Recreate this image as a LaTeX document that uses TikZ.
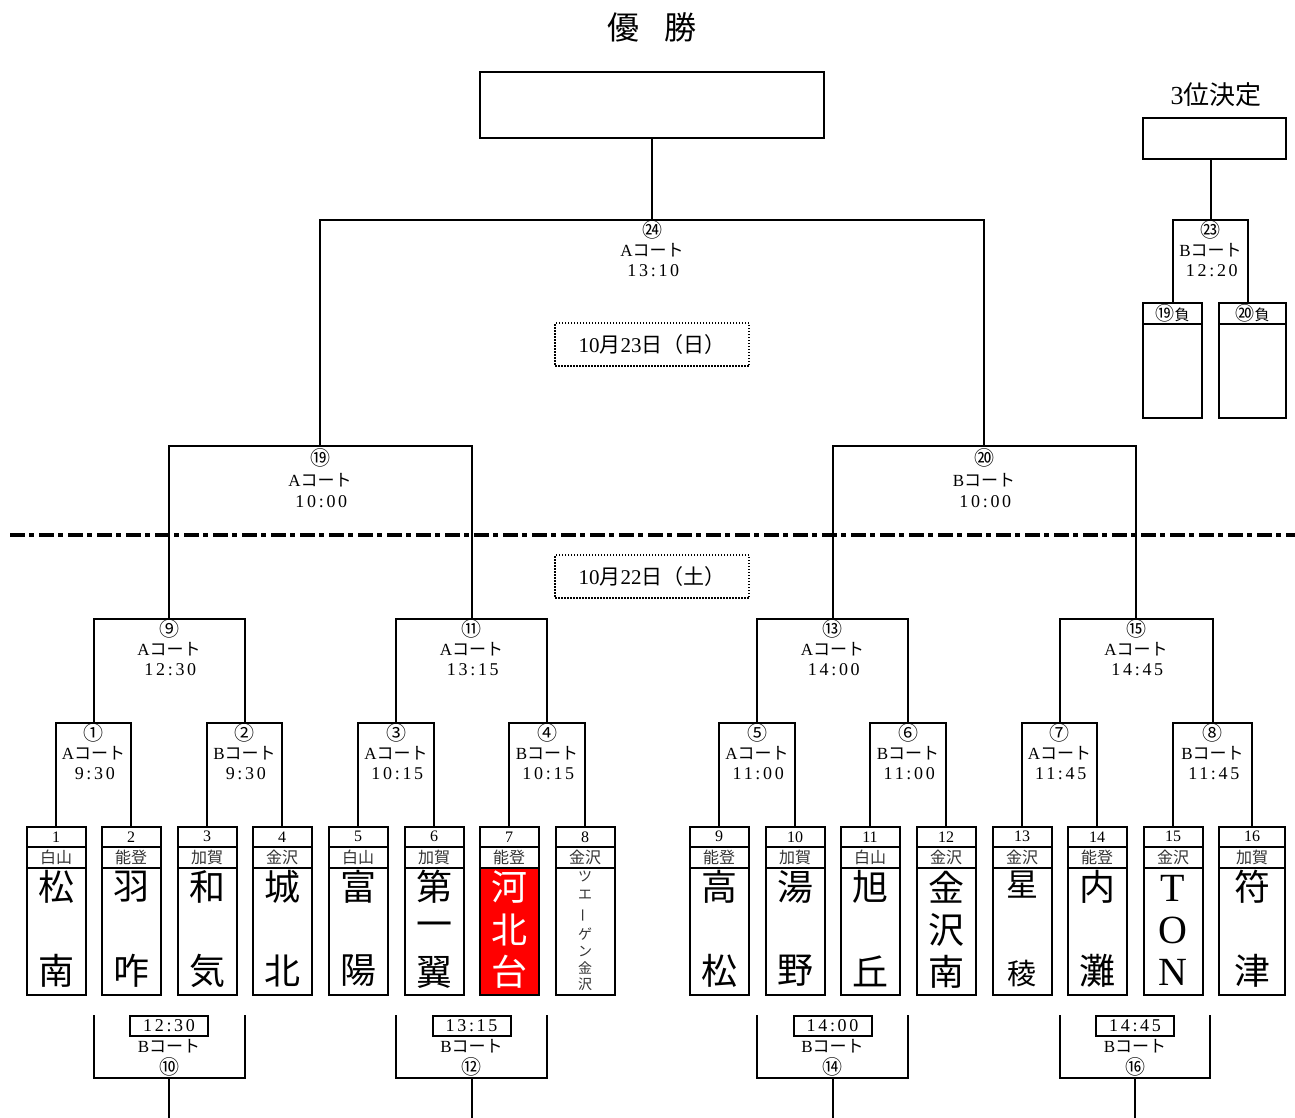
\documentclass[tikz,border=0pt]{standalone}
\usepackage{fontspec}
\setmainfont{Liberation Serif}
\newfontfamily\jp{Noto Sans CJK JP}
\newfontfamily\tmf[LetterSpace=15]{Liberation Serif}
\begin{document}
\begin{tikzpicture}[x=1pt,y=-1pt,
  ln/.style={line width=2pt},
  box/.style={draw,line width=2pt,inner sep=0pt,outer sep=0pt,anchor=north},
  circ/.style={font=\jp\fontsize{20}{20}\selectfont,inner sep=0pt},
  court/.style={font=\fontsize{17}{17}\selectfont,inner sep=0pt},
  tim/.style={font=\tmf\fontsize{18}{18}\selectfont,inner sep=0pt},
  nm/.style={font=\jp\fontsize{36}{36}\selectfont,inner sep=0pt},
  sm/.style={font=\jp\fontsize{14}{14}\selectfont,inner sep=0pt,text=black!80},
  datebox/.style={draw,line width=1.5pt,dash pattern=on 1.5pt off 1.5pt,minimum width=194,minimum height=43,inner sep=0pt,font=\fontsize{21}{21}\selectfont},
  sep/.style={line width=3.3pt,dash pattern=on 15pt off 4pt on 5pt off 5pt}]
\fill[white] (0,0) rectangle (1295,1117);
\useasboundingbox (0,0) rectangle (1295,1117);

% title and champion
\node[font=\jp\fontsize{32}{32}\selectfont,inner sep=0pt] (ttl) at (652,27) {優\hspace{25pt}勝};
\node[draw,ln,minimum width=344,minimum height=66,inner sep=0pt,outer sep=0pt] (champ) at (652,105) {};

% third place
\node[font=\fontsize{26}{26}\selectfont,inner sep=0pt] (ttl3) at (1216,95) {3{\jp 位決定}};
\node[draw,ln,minimum width=143,minimum height=41,inner sep=0pt,outer sep=0pt] (third) at (1214.5,138.5) {};
\node[box,minimum width=59,minimum height=21,font=\jp\fontsize{15}{15}\selectfont] (p19h) at (1172.5,303) {{\fontsize{19}{19}\selectfont ⑲}負};
\node[box,minimum width=59,minimum height=94] (p19b) at (1172.5,324) {};
\node[box,minimum width=67,minimum height=21,font=\jp\fontsize{15}{15}\selectfont] (p20h) at (1252.5,303) {{\fontsize{19}{19}\selectfont ⑳}負};
\node[box,minimum width=67,minimum height=94] (p20b) at (1252.5,324) {};
\coordinate (g) at (1210.5,220);
\coordinate (g20) at (1248,303);
\draw[ln] (p19h.north) |- (g) -| (g20);
\draw[ln] (g) -- (g |- third.south);

% team boxes
\foreach \i/\x/\w/\r in {1/56/59/白山, 2/131/59/能登, 3/207/59/加賀, 4/282/59/金沢,
  5/358/59/白山, 6/434/59/加賀, 7/509/59/能登, 8/585/59/金沢,
  9/719/59/能登, 10/795/59/加賀, 11/870/59/白山, 12/946/59/金沢,
  13/1022/59/金沢, 14/1097/59/能登, 15/1173/59/金沢, 16/1252/66/加賀}{
  \node[box,minimum width=\w,minimum height=19.5,font=\fontsize{16}{16}\selectfont] (n\i) at (\x,827) {\i};
  \node[box,minimum width=\w,minimum height=21,font=\jp\fontsize{16}{16}\selectfont,text=black!80] (r\i) at (\x,846.5) {\r};
  \node[box,minimum width=\w,minimum height=127] (t\i) at (\x,867.5) {};
}
\path[fill=red,draw,ln] (t7.north west) rectangle (t7.south east);

% team names
\foreach \i/\x/\a/\b in {1/56/松/南, 2/131/羽/咋, 3/207/和/気, 4/282/城/北, 5/358/富/陽,
  9/719/高/松, 10/795/湯/野, 11/870/旭/丘, 14/1097/内/灘, 16/1252/符/津}{
  \node[nm] (na\i) at (\x,887) {\a};
  \node[nm] (nb\i) at (\x,971) {\b};
}
\node[nm,font=\jp\fontsize{32}{32}\selectfont] (na13) at (1022,885) {星};
\node[nm,font=\jp\fontsize{29}{29}\selectfont] (nb13) at (1022,973) {稜};
\foreach \i/\x/\a/\b/\c/\col in {6/434/第/一/翼/black, 7/509/河/北/台/white, 12/946/金/沢/南/black}{
  \node[nm,text=\col] (na\i) at (\x,887) {\a};
  \node[nm,text=\col] (nm\i) at (\x,930) {\b};
  \node[nm,text=\col] (nb\i) at (\x,972) {\c};
}
\node[inner sep=0pt,font=\fontsize{40}{40}\selectfont] (na15) at (1173,888) {T};
\node[inner sep=0pt,font=\fontsize{40}{40}\selectfont] (nm15) at (1173,930) {O};
\node[inner sep=0pt,font=\fontsize{40}{40}\selectfont] (nb15) at (1173,972) {N};
\foreach \k/\y/\ch in {1/876/ツ, 2/895/エ, 4/934/ゲ, 5/951/ン, 6/968/金, 7/984/沢}{
  \node[sm] (s8\k) at (585,\y) {\ch};
}
\node[sm,rotate=90] (s83) at (585,915) {ー};

% bracket coordinates
\coordinate (a1) at (93.5,723);  \coordinate (a2) at (244.5,723);
\coordinate (a3) at (396,723);   \coordinate (a4) at (547,723);
\coordinate (a5) at (757,723);   \coordinate (a6) at (908,723);
\coordinate (a7) at (1059.5,723);\coordinate (a8) at (1212.5,723);
\coordinate (b1) at (169,619);   \coordinate (b2) at (471.5,619);
\coordinate (b3) at (832.5,619); \coordinate (b4) at (1136,619);
\coordinate (q1) at (320,446);   \coordinate (q2) at (984,446);
\coordinate (f) at (652,220);

\draw[ln] (n1.north) |- (a1) -| (n2.north);
\draw[ln] (n3.north) |- (a2) -| (n4.north);
\draw[ln] (n5.north) |- (a3) -| (n6.north);
\draw[ln] (n7.north) |- (a4) -| (n8.north);
\draw[ln] (n9.north) |- (a5) -| (n10.north);
\draw[ln] (n11.north) |- (a6) -| (n12.north);
\draw[ln] (n13.north) |- (a7) -| (n14.north);
\draw[ln] (n15.north) |- (a8) -| (n16.north);
\draw[ln] (a1) |- (b1) -| (a2);
\draw[ln] (a3) |- (b2) -| (a4);
\draw[ln] (a5) |- (b3) -| (a6);
\draw[ln] (a7) |- (b4) -| (a8);
\draw[ln] (b1) |- (q1) -| (b2);
\draw[ln] (b3) |- (q2) -| (b4);
\draw[ln] (q1) |- (f) -| (q2);
\draw[ln] (f) -- (champ.south);

% match labels
\foreach \x/\y/\c/\ct/\t/\n in {
 93.5/723/①/A/9:30/1, 244.5/723/②/B/9:30/2, 396/723/③/A/10:15/3, 547/723/④/B/10:15/4,
 757/723/⑤/A/11:00/5, 908/723/⑥/B/11:00/6, 1059.5/723/⑦/A/11:45/7, 1212.5/723/⑧/B/11:45/8,
 169/619/⑨/A/12:30/9, 471.5/619/⑪/A/13:15/11, 832.5/619/⑬/A/14:00/13, 1136/619/⑮/A/14:45/15,
 652/220/㉔/A/13:10/24, 1210.5/220/㉓/B/12:20/23}{
  \node[circ] (lc\n) at (\x,\y+9.5) {\c};
  \node[court] (lk\n) at (\x,\y+30.5) {\ct{\jp コート}};
  \node[tim] (lt\n) at (\x+1.3,\y+51) {\t};
}
\foreach \x/\c/\ct/\n in {320/⑲/A/19, 984/⑳/B/20}{
  \node[circ] (lc\n) at (\x,458) {\c};
  \node[court] (lk\n) at (\x,480) {\ct{\jp コート}};
  \node[tim] (lt\n) at (\x+1.3,502) {10:00};
}

% date boxes and separator
\node[datebox] (d23) at (652,344.5) {10{\jp 月}23{\jp 日（日）}};
\node[datebox] (d22) at (652,576.5) {10{\jp 月}22{\jp 日（土）}};
\coordinate (sepL) at (10,535);
\coordinate (sepR) at (1295,535);
\draw[sep] (sepL) -- (sepR);

% consolation brackets at the bottom
\foreach \l/\r/\m/\c/\t/\n in {93.5/244.5/169/⑩/12:30/10, 396/547/471.5/⑫/13:15/12,
  757/908/832.5/⑭/14:00/14, 1059.5/1210/1135/⑯/14:45/16}{
  \coordinate (bl\n) at (\l,1015);
  \coordinate (br\n) at (\r,1015);
  \coordinate (bm\n) at (\m,1078);
  \coordinate (bb\n) at (\m,1120);
  \draw[ln] (bl\n) |- (bm\n) -| (br\n);
  \draw[ln] (bm\n) -- (bb\n);
  \node[tim,draw,line width=2pt,minimum width=78,minimum height=20] (bt\n) at (\m,1026) {\t};
  \node[court] (bk\n) at (\m,1046) {B{\jp コート}};
  \node[circ] (bc\n) at (\m,1067) {\c};
}
\end{tikzpicture}
\end{document}
